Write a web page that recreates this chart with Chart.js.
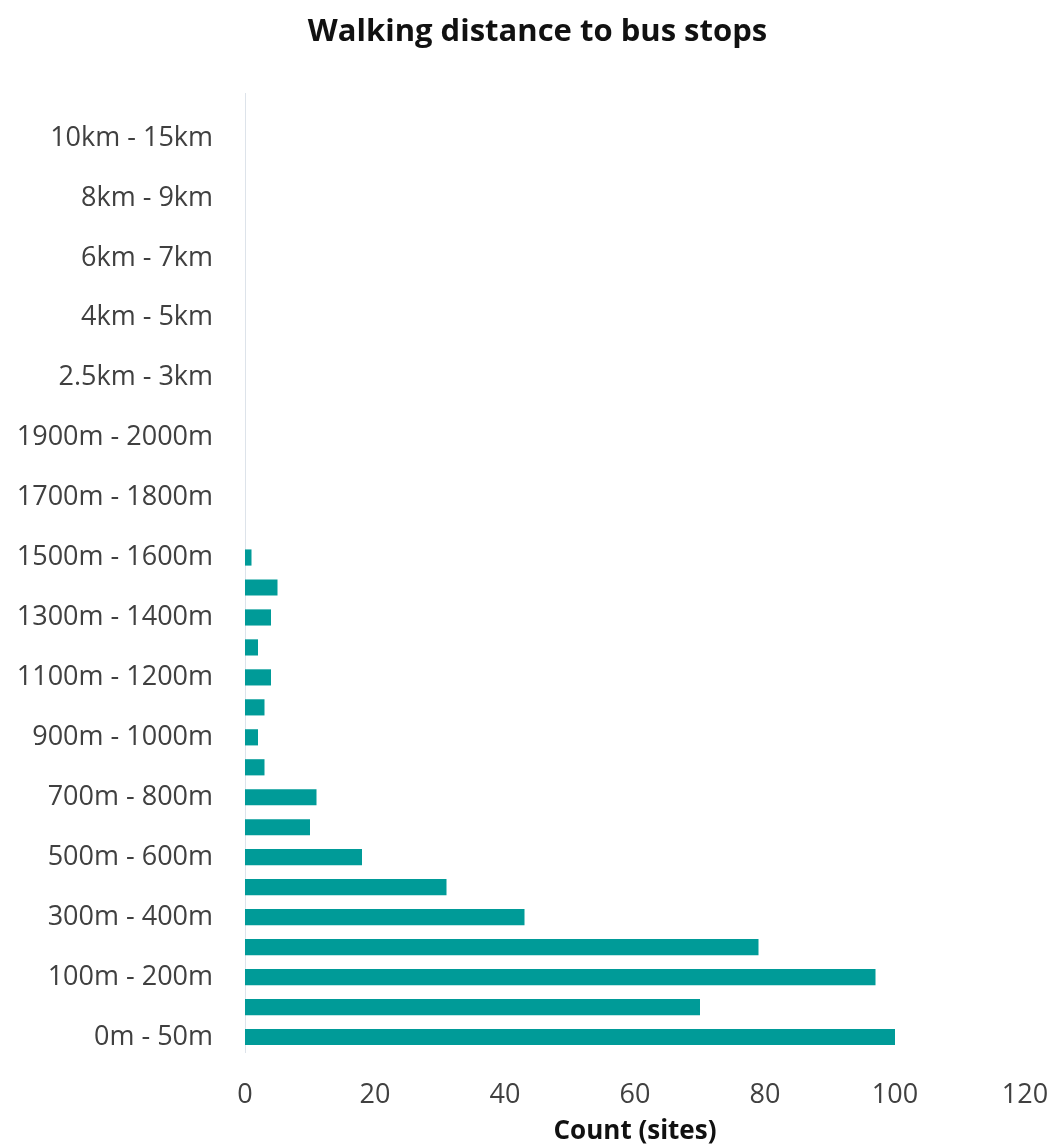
<!DOCTYPE html>
<html>
<head>
<meta charset="utf-8">
<script src="https://cdn.jsdelivr.net/npm/chart.js@4/dist/chart.umd.min.js"></script>
<style>
    html, body { margin: 0; padding: 0; background: #fff; }
    .chart-box { width: 1053px; height: 1145px; }
</style>
</head>
<body>
<div class="chart-box"><canvas id="distanceChart"></canvas></div>
<script>
// Distance bands, nearest first
const distanceBands = [
    '0m - 50m', '50m - 100m', '100m - 200m', '200m - 300m', '300m - 400m',
    '400m - 500m', '500m - 600m', '600m - 700m', '700m - 800m', '800m - 900m',
    '900m - 1000m', '1000m - 1100m', '1100m - 1200m', '1200m - 1300m', '1300m - 1400m',
    '1400m - 1500m', '1500m - 1600m', '1600m - 1700m', '1700m - 1800m', '1800m - 1900m',
    '1900m - 2000m', '2km - 2.5km', '2.5km - 3km', '3km - 4km', '4km - 5km',
    '5km - 6km', '6km - 7km', '7km - 8km', '8km - 9km', '9km - 10km',
    '10km - 15km', '15km+'
];

// Number of sites in each band
const siteCounts = [
    100, 70, 97, 79, 43,
    31, 18, 10, 11, 3,
    2, 3, 4, 2, 4,
    5, 1, 0, 0, 0,
    0, 0, 0, 0, 0,
    0, 0, 0, 0, 0,
    0, 0
];

const countTicks = [0, 20, 40, 60, 80, 100, 120];

const chartTitle = 'Walking distance to bus stops';

const fontFamily = '"Open Sans", Lato, sans-serif';
const textColor = '#404040';

// Title drawn slightly right of the canvas centre, like the original workbook chart
const headingPlugin = {
    id: 'heading',
    afterDraw(chart) {
        const c = chart.ctx;
        c.save();
        c.font = 'bold 31px ' + fontFamily;
        c.fillStyle = '#111';
        c.textAlign = 'center';
        c.textBaseline = 'middle';
        c.fillText(chartTitle, chart.width / 2 + 11, 32);
        c.restore();
    }
};

document.addEventListener('DOMContentLoaded', function() {
    const ctx = document.getElementById('distanceChart');

    new Chart(ctx, {
        type: 'bar',
        data: {
            labels: distanceBands,
            datasets: [{
                label: 'Count (sites)',
                data: siteCounts,
                backgroundColor: '#009b98',
                borderWidth: 0,
                categoryPercentage: 1,
                barPercentage: 0.54
            }]
        },
        options: {
            indexAxis: 'y',
            responsive: true,
            maintainAspectRatio: false,
            animation: false,
            layout: {
                padding: { left: 0, right: 28, top: 93, bottom: 0 }
            },
            plugins: {
                legend: { display: false },
                tooltip: { enabled: false },
                title: { display: false }
            },
            scales: {
                y: {
                    reverse: true,
                    grid: { display: false, drawTicks: false },
                    border: { display: true, color: '#dde3ea', width: 1 },
                    ticks: {
                        autoSkip: false,
                        padding: 32,
                        color: textColor,
                        font: { family: fontFamily, size: 27 },
                        callback: function(value, index) {
                            return index % 2 === 0 ? this.getLabelForValue(value) : '';
                        }
                    },
                    afterFit: function(scale) {
                        scale.width = 245;
                        scale.paddingTop = 0;
                        scale.paddingBottom = 0;
                    }
                },
                x: {
                    min: countTicks[0],
                    max: countTicks[countTicks.length - 1],
                    afterBuildTicks: function(scale) {
                        scale.ticks = countTicks.map(v => ({ value: v }));
                    },
                    grid: { display: false, drawTicks: false },
                    border: { display: false },
                    ticks: {
                        padding: 27,
                        color: textColor,
                        font: { family: fontFamily, size: 27 }
                    },
                    title: {
                        display: true,
                        text: 'Count (sites)',
                        color: '#111',
                        font: { family: fontFamily, size: 26, weight: 'bold', lineHeight: 1 },
                        padding: { top: 0, bottom: 0 }
                    },
                    afterFit: function(scale) {
                        scale.height = 93;
                        scale.paddingLeft = 0;
                        scale.paddingRight = 0;
                    }
                }
            }
        },
        plugins: [headingPlugin]
    });
});
</script>
</body>
</html>
